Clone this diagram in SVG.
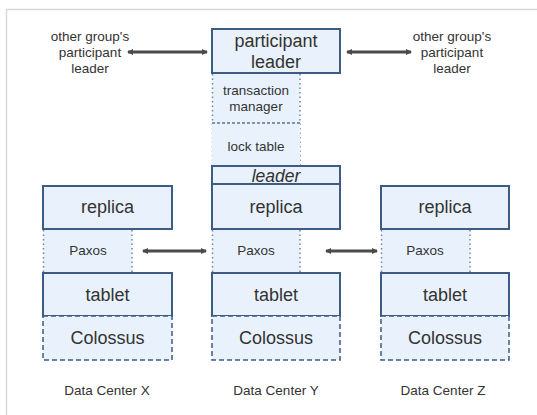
<svg xmlns="http://www.w3.org/2000/svg" width="537" height="415" viewBox="0 0 537 415">
<style>
.bg{fill:#ffffff}
.frame{stroke:#d9d9d9;stroke-width:1.5;fill:none}
.box{fill:#e9f2fc;stroke:#3d5c85;stroke-width:2}
.fill{fill:#e9f2fc;stroke:none}
.dot{stroke:#6f87a6;stroke-width:1.5;stroke-dasharray:1.5 3;fill:none}
.dash{stroke:#3d5c85;stroke-width:1.5;stroke-dasharray:5 3;fill:none}
.t{font-family:"Liberation Sans",Arial,sans-serif;fill:#333;text-anchor:middle}
.big{font-size:18px}
.sm{font-size:13.5px}
.arrow{stroke:#4a4a4a;stroke-width:3;fill:none;marker-start:url(#ah);marker-end:url(#ah)}
</style>
<defs>
<marker id="ah" viewBox="0 0 6 6" refX="5" refY="3" markerWidth="2" markerHeight="2" orient="auto-start-reverse" markerUnits="strokeWidth">
<path d="M0,0 L6,3 L0,6 Z" fill="#4a4a4a"/>
</marker>
</defs>
<rect class="bg" x="0" y="0" width="537" height="415"/>
<path class="frame" d="M6.5,415 V9.5 H537"/>

<g id="connectors">
<line class="arrow" x1="128" y1="52" x2="207" y2="52"/>
<line class="arrow" x1="347" y1="52" x2="411" y2="52"/>
<line class="arrow" x1="143" y1="251" x2="206" y2="251"/>
<line class="arrow" x1="326" y1="251" x2="377" y2="251"/>
</g>

<g id="other-left">
<text class="t sm" x="90" y="41">other group's</text>
<text class="t sm" x="90" y="57">participant</text>
<text class="t sm" x="90" y="73">leader</text>
</g>
<g id="other-right">
<text class="t sm" x="452" y="41">other group's</text>
<text class="t sm" x="452" y="57">participant</text>
<text class="t sm" x="452" y="73">leader</text>
</g>

<g id="participant-leader">
<rect class="box" x="212" y="29" width="128" height="44"/>
<text class="t big" x="276" y="47">participant</text>
<text class="t big" x="276" y="68">leader</text>
</g>

<g id="transaction-manager">
<rect class="fill" x="212" y="74" width="88" height="49"/>
<line class="dot" x1="212.5" y1="74" x2="212.5" y2="165"/>
<line class="dot" x1="300" y1="74" x2="300" y2="165"/>
<text class="t sm" x="256" y="95">transaction</text>
<text class="t sm" x="256" y="111">manager</text>
</g>
<g id="lock-table">
<rect class="fill" x="212" y="123" width="88" height="42"/>
<line class="dash" style="stroke-dasharray:3 2;stroke:#5a7597" x1="212" y1="123" x2="300" y2="123"/>
<text class="t sm" x="256" y="151">lock table</text>
</g>

<g id="leader">
<rect class="box" x="212" y="166" width="128" height="18"/>
<text class="t" style="font-size:17.5px;font-style:italic" x="276" y="181.5">leader</text>
</g>

<!-- Column X -->
<g id="replica-x">
<rect class="box" x="43" y="186" width="129" height="43"/>
<text class="t big" x="107.5" y="213">replica</text>
</g>
<g id="paxos-x">
<rect class="fill" x="43" y="230" width="89" height="42"/>
<line class="dot" x1="43.5" y1="230" x2="43.5" y2="272"/>
<line class="dot" x1="132" y1="230" x2="132" y2="272"/>
<text class="t sm" x="88" y="255">Paxos</text>
</g>
<g id="tablet-x">
<rect class="box" x="43" y="273" width="129" height="43"/>
<text class="t big" x="107.5" y="301">tablet</text>
</g>
<g id="colossus-x">
<rect class="fill" x="43" y="316" width="129" height="44"/>
<rect class="dash" x="43" y="316" width="129" height="44"/>
<text class="t big" x="107.5" y="344">Colossus</text>
</g>
<text id="dc-x" class="t sm" x="107" y="395">Data Center X</text>

<!-- Column Y -->
<g id="replica-y">
<rect class="box" x="212" y="184" width="128" height="45"/>
<text class="t big" x="276" y="213">replica</text>
</g>
<g id="paxos-y">
<rect class="fill" x="212" y="230" width="88" height="42"/>
<line class="dot" x1="212.5" y1="230" x2="212.5" y2="272"/>
<line class="dot" x1="300" y1="230" x2="300" y2="272"/>
<text class="t sm" x="256" y="255">Paxos</text>
</g>
<g id="tablet-y">
<rect class="box" x="212" y="273" width="128" height="43"/>
<text class="t big" x="276" y="301">tablet</text>
</g>
<g id="colossus-y">
<rect class="fill" x="212" y="316" width="128" height="44"/>
<rect class="dash" x="212" y="316" width="128" height="44"/>
<text class="t big" x="276" y="344">Colossus</text>
</g>
<text id="dc-y" class="t sm" x="276" y="395">Data Center Y</text>

<!-- Column Z -->
<g id="replica-z">
<rect class="box" x="381" y="186" width="128" height="43"/>
<text class="t big" x="445" y="213">replica</text>
</g>
<g id="paxos-z">
<rect class="fill" x="381" y="230" width="89" height="42"/>
<line class="dot" x1="381.5" y1="230" x2="381.5" y2="272"/>
<line class="dot" x1="470" y1="230" x2="470" y2="272"/>
<text class="t sm" x="425" y="255">Paxos</text>
</g>
<g id="tablet-z">
<rect class="box" x="381" y="273" width="128" height="43"/>
<text class="t big" x="445" y="301">tablet</text>
</g>
<g id="colossus-z">
<rect class="fill" x="381" y="316" width="128" height="44"/>
<rect class="dash" x="381" y="316" width="128" height="44"/>
<text class="t big" x="445" y="344">Colossus</text>
</g>
<text id="dc-z" class="t sm" x="443" y="395">Data Center Z</text>
</svg>
